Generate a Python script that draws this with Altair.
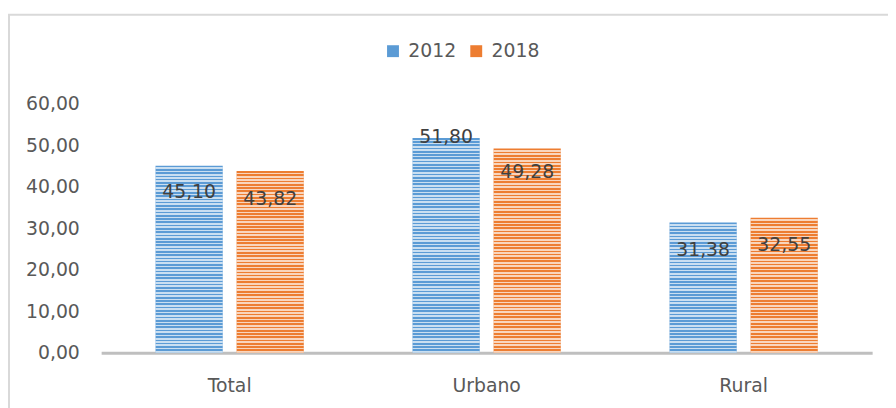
import altair as alt
import pandas as pd

categories = ["Total", "Urbano", "Rural"]
series = ["2012", "2018"]
values_2012 = [45.10, 51.80, 31.38]
values_2018 = [43.82, 49.28, 32.55]
series_colors = ["#5B9BD5", "#ED7D31"]

# style: pixel offset of each data label from its bar top (Total 2012, Total 2018, Urbano 2012, ...)
label_dy = [27, 28, -1, 24, 28, 28]

FONT = "DejaVu Sans"
FS = 19
W, H = 778, 251
STRIPE_PERIOD = 3.3  # px

rows = []
for i, c in enumerate(categories):
    rows.append({"category": c, "series": series[0], "value": values_2012[i]})
    rows.append({"category": c, "series": series[1], "value": values_2018[i]})
df = pd.DataFrame(rows)


def stripe_fill(n):
    stops = []
    for i in range(n):
        a, m, b = i / n, (i + 0.5) / n, (i + 1) / n
        stops += [
            {"offset": a, "color": "rgba(255,255,255,0)"},
            {"offset": m, "color": "rgba(255,255,255,0)"},
            {"offset": m, "color": "rgba(255,255,255,0.68)"},
            {"offset": b, "color": "rgba(255,255,255,0.68)"},
        ]
    return {"gradient": "linear", "x1": 0, "y1": 0, "x2": 0, "y2": 1, "stops": stops}


x_enc = alt.X(
    "category:N",
    sort=categories,
    scale=alt.Scale(domain=categories, paddingInner=0, paddingOuter=0),
    axis=alt.Axis(
        title=None, labelAngle=0, ticks=False, domainColor="#BFBFBF", domainWidth=3,
        labelFont=FONT, labelFontSize=FS, labelColor="#595959", labelPadding=24,
    ),
)
xo_enc = alt.XOffset(
    "series:N", sort=series,
    scale=alt.Scale(domain=series, paddingInner=0.1707, paddingOuter=0.6707),
)

y_scale = alt.Scale(domain=[0, 60], nice=False, zero=True)
y_axis = alt.Axis(
    title=None, values=[0, 10, 20, 30, 40, 50, 60], grid=False, domain=False, ticks=False,
    labelExpr="replace(format(datum.value, '.2f'), '.', ',')",
    labelFont=FONT, labelFontSize=FS, labelColor="#595959", labelPadding=22,
)
y_enc = alt.Y("value:Q", scale=y_scale, axis=y_axis, title=None)

base = alt.Chart(df)

bars = base.mark_bar().encode(
    x=x_enc, xOffset=xo_enc, y=y_enc,
    color=alt.Color(
        "series:N", sort=series,
        scale=alt.Scale(domain=series, range=series_colors),
        legend=alt.Legend(
            title=None, orient="none", direction="horizontal", legendX=285, legendY=-63,
            padding=0, symbolType="square", symbolSize=144, symbolStrokeWidth=0,
            labelFont=FONT, labelFontSize=FS, labelColor="#595959", labelOffset=6,
            columnPadding=10,
        ),
    ),
)

layers = [bars]
for r, dy in zip(rows, label_dy):
    flt = (alt.datum.category == r["category"]) & (alt.datum.series == r["series"])
    n = max(1, round(r["value"] / 60 * H / STRIPE_PERIOD))
    layers.append(
        base.transform_filter(flt).mark_bar(fill=stripe_fill(n)).encode(
            x=x_enc, xOffset=xo_enc, y=y_enc
        )
    )

for r, dy in zip(rows, label_dy):
    flt = (alt.datum.category == r["category"]) & (alt.datum.series == r["series"])
    layers.append(
        base.transform_filter(flt).transform_calculate(
            label="replace(format(datum.value, '.2f'), '.', ',')"
        ).mark_text(
            align="center", baseline="middle", font=FONT, fontSize=FS, color="#404040", dy=dy
        ).encode(x=x_enc, xOffset=xo_enc, y=y_enc, text="label:N")
    )

frame_df = pd.DataFrame({"k": [0]})
layers.append(alt.Chart(frame_df).mark_rule(color="#D9D9D9", strokeWidth=2).encode(
    x=alt.value(-93), y=alt.value(-90), y2=alt.value(320)
))
layers.append(alt.Chart(frame_df).mark_rule(color="#D9D9D9", strokeWidth=2).encode(
    x=alt.value(-94), x2=alt.value(800), y=alt.value(-90)
))

chart = alt.layer(*layers).properties(
    width=W, height=H,
    background="white",
    autosize=alt.AutoSizeParams(type="none"),
    padding={"left": 94, "top": 95, "right": 16, "bottom": 54},
).configure_view(stroke=None)

chart.save("out.html", embed_options={"renderer": "svg", "actions": False})
